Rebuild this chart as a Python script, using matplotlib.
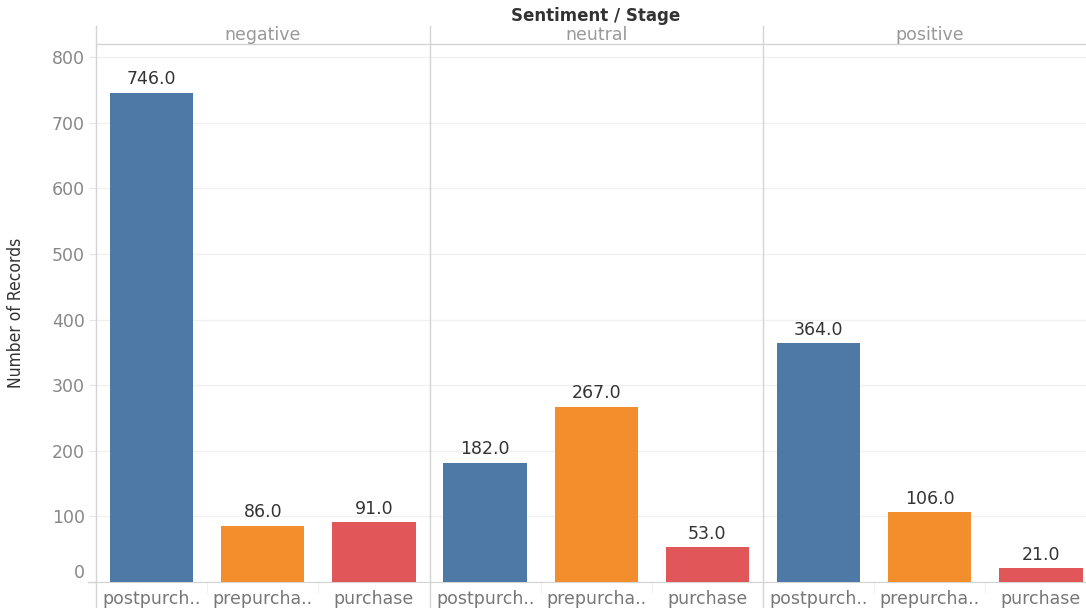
import numpy as np
from matplotlib import pyplot as plt

plt.rcParams['font.family'] = ['DejaVu Sans']

# data
sentiments = ['negative', 'neutral', 'positive']
stages = ['postpurch..', 'prepurcha..', 'purchase']
negative = [746, 86, 91]
neutral = [182, 267, 53]
positive = [364, 106, 21]
values = [negative, neutral, positive]
colors = ['#4e79a7', '#f28e2b', '#e15759']

W, H = 1086, 608
fig = plt.figure(figsize=(W / 100, H / 100), dpi=100)

left = 96
pw = 333.5
bottom = 582
top = 44
line_c = '#d4d4d4'

for i, (sent, vals) in enumerate(zip(sentiments, values)):
    x0 = left + i * pw
    ax = fig.add_axes([x0 / W, (H - bottom) / H, pw / W, (bottom - top) / H])
    x = np.arange(len(stages))
    ax.bar(x, vals, width=0.75, color=colors, zorder=3)
    for xi, v in zip(x, vals):
        ax.text(xi, v + 7, f'{v:.1f}', ha='center', va='bottom',
                fontsize=12.5, color='#333333', zorder=4)
    ax.set_xlim(-0.5, 2.5)
    ax.set_ylim(0, 820)
    ax.set_yticks(np.arange(0, 801, 100))
    ax.grid(axis='y', color='#f0f0f0', linewidth=1, zorder=0)
    ax.set_xticks(x)
    ax.set_xticklabels(stages, fontsize=12.5, color='#777777')
    ax.set_xticks([0.5, 1.5], minor=True)
    ax.tick_params(axis='x', which='major', length=0, pad=6)
    ax.tick_params(axis='x', which='minor', length=8, color='#ececec')
    for s in ['top', 'right', 'left']:
        ax.spines[s].set_visible(False)
    ax.spines['bottom'].set_color(line_c)
    if i == 0:
        ax.tick_params(axis='y', length=5, color='#e6e6e6', labelsize=12.5,
                       labelcolor='#888888', pad=3)
        ylabels = ax.get_yticklabels()
        ylabels[0].set_verticalalignment('bottom')
        ax.set_ylabel('Number of Records', fontsize=12.5, color='#333333',
                      labelpad=19, fontstretch='condensed', fontweight='medium')
    else:
        ax.tick_params(axis='y', length=0, labelleft=False)
    # header
    fig.text((x0 + pw / 2) / W, (H - 35) / H, sent, ha='center', va='center',
             fontsize=12.5, color='#999999')
    # header line
    fig.add_artist(plt.Line2D([x0 / W, (x0 + pw) / W], [(H - top) / H] * 2,
                              color=line_c, lw=1))
    # vertical separator
    fig.add_artist(plt.Line2D([x0 / W] * 2, [0, (H - 26) / H],
                              color=line_c, lw=1))

# baseline extension to the left of the axes
fig.add_artist(plt.Line2D([88 / W, left / W], [(H - bottom) / H] * 2, color=line_c, lw=1))

fig.text(596 / W, (H - 16) / H, 'Sentiment / Stage', ha='center', va='center',
         fontsize=12, fontweight='semibold', color='#333333')

fig.savefig('out.png', dpi=100)
